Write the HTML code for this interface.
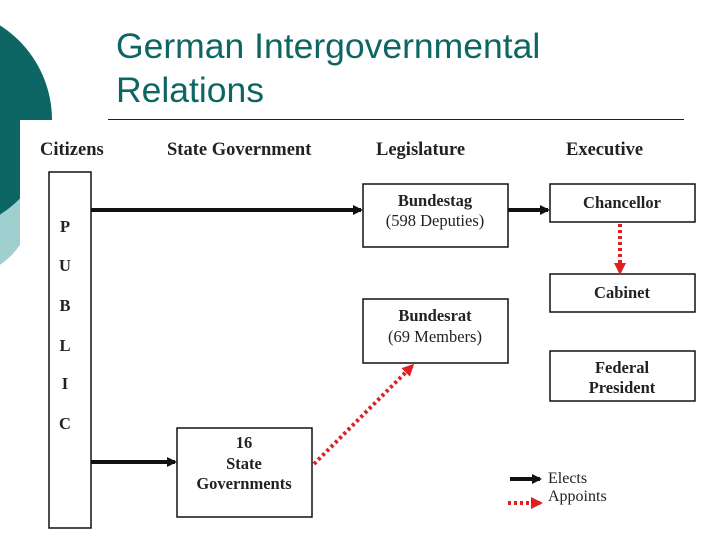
<!DOCTYPE html>
<html><head><style>
body{margin:0;width:720px;height:540px;overflow:hidden;background:#fff}
svg{display:block}
.t{font-family:"Liberation Serif",serif;font-weight:bold;fill:#222}
</style></head><body>
<svg width="720" height="540" viewBox="0 0 720 540" xmlns="http://www.w3.org/2000/svg">
<defs>
<marker id="ab" markerWidth="10" markerHeight="10" refX="8" refY="5" orient="auto" markerUnits="userSpaceOnUse"><path d="M0,0 L10,5 L0,10z" fill="#111"/></marker>
<marker id="ar" markerWidth="12" markerHeight="12" refX="9" refY="6" orient="auto" markerUnits="userSpaceOnUse"><path d="M0,0 L12,6 L0,12z" fill="#e02020"/></marker>
</defs>
<circle cx="-40" cy="205" r="72" fill="#9fcfcf"/>
<circle cx="-60" cy="120" r="112" fill="#0e6664"/>
<rect x="20" y="120" width="700" height="420" fill="#fff"/>
<text x="116" y="58" font-family="Liberation Sans,sans-serif" font-size="35.5" fill="#0e6664">German Intergovernmental</text>
<text x="116" y="102" font-family="Liberation Sans,sans-serif" font-size="35.5" fill="#0e6664">Relations</text>
<line x1="108" y1="119.5" x2="684" y2="119.5" stroke="#222" stroke-width="1"/>
<g class="t" font-size="18.5">
<text x="40" y="155">Citizens</text>
<text x="167" y="155">State Government</text>
<text x="376" y="155">Legislature</text>
<text x="566" y="155">Executive</text>
</g>
<g fill="none" stroke="#111" stroke-width="1.5">
<rect x="49" y="172" width="42" height="356"/>
<rect x="363" y="184" width="145" height="63"/>
<rect x="363" y="299" width="145" height="64"/>
<rect x="550" y="184" width="145" height="38"/>
<rect x="550" y="274" width="145" height="38"/>
<rect x="550" y="351" width="145" height="50"/>
<rect x="177" y="428" width="135" height="89"/>
</g>
<g class="t" font-size="16.5" text-anchor="middle">
<text x="65" y="232">P</text><text x="65" y="271">U</text><text x="65" y="311">B</text>
<text x="65" y="351">L</text><text x="65" y="389">I</text><text x="65" y="429">C</text>
<text x="435" y="206">Bundestag</text>
<text x="435" y="226" font-weight="normal">(598 Deputies)</text>
<text x="435" y="321">Bundesrat</text>
<text x="435" y="342" font-weight="normal">(69 Members)</text>
<text x="622" y="208">Chancellor</text>
<text x="622" y="298">Cabinet</text>
<text x="622" y="373">Federal</text>
<text x="622" y="393">President</text>
<text x="244" y="448">16</text>
<text x="244" y="469">State</text>
<text x="244" y="489">Governments</text>
</g>
<g stroke="#111" stroke-width="4">
<line x1="91" y1="210" x2="361" y2="210" marker-end="url(#ab)"/>
<line x1="508" y1="210" x2="548" y2="210" marker-end="url(#ab)"/>
<line x1="91" y1="462" x2="175" y2="462" marker-end="url(#ab)"/>
<line x1="510" y1="479" x2="540" y2="479" marker-end="url(#ab)"/>
</g>
<g stroke="#e02020" stroke-width="4" stroke-dasharray="3,3">
<line x1="620" y1="224" x2="620" y2="272" marker-end="url(#ar)"/>
<line x1="314" y1="464" x2="412" y2="366" marker-end="url(#ar)"/>
<line x1="508" y1="503" x2="540" y2="503" marker-end="url(#ar)"/>
</g>
<g font-family="Liberation Serif,serif" font-size="16" fill="#222">
<text x="548" y="483">Elects</text>
<text x="548" y="501">Appoints</text>
</g>
</svg>
</body></html>
